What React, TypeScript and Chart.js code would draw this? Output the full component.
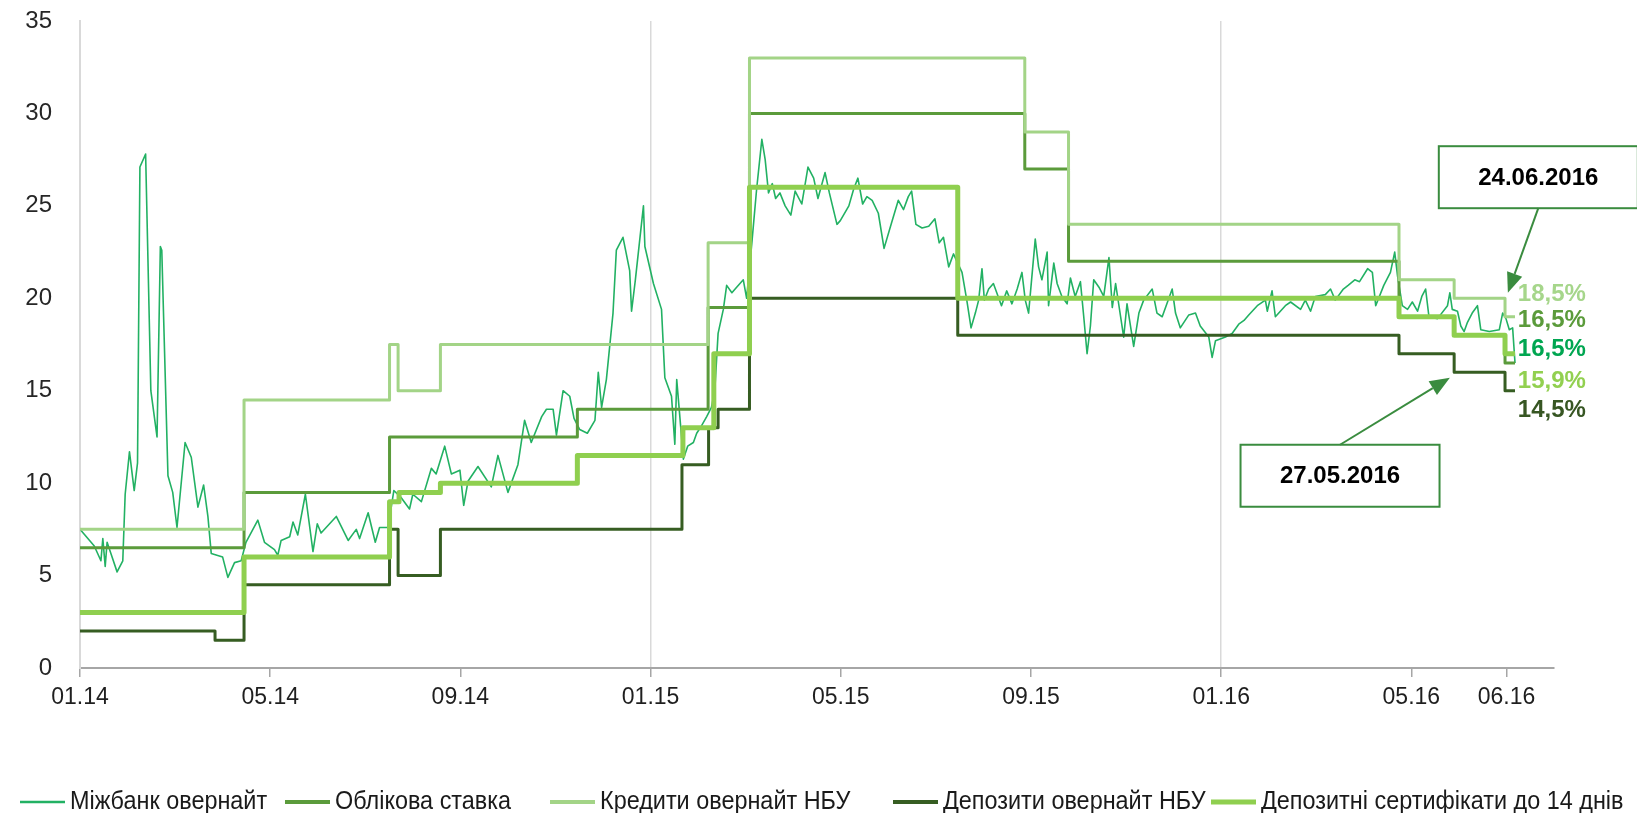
import React, { useEffect, useRef } from 'react';
import { Chart, registerables } from 'chart.js';

Chart.register(...registerables);

// ---------- axis ticks (x in months since 01.2014) ----------
const tickValues = [0, 4, 8, 12, 16, 20, 24, 28, 30];
const tickLabels = ['01.14', '05.14', '09.14', '01.15', '05.15', '09.15', '01.16', '05.16', '06.16'];
const yearGridValues = [12, 24];

// ---------- series names ----------
const seriesNames = [
  'Міжбанк овернайт',
  'Облікова ставка',
  'Кредити овернайт НБУ',
  'Депозити овернайт НБУ',
  'Депозитні сертифікати до 14 днів',
];

// ---------- Міжбанк овернайт ----------
const interbankMonths = [
  0.00, 0.30, 0.44, 0.48, 0.53, 0.57, 0.65, 0.78, 0.90, 0.95, 1.04, 1.14, 1.21, 1.26, 1.38, 1.49, 1.62, 1.69, 1.72, 1.85,
  1.95, 2.04, 2.21, 2.34, 2.48, 2.60, 2.69, 2.76, 3.00, 3.11, 3.25, 3.39, 3.49, 3.74, 3.88, 4.09, 4.16, 4.23, 4.41, 4.48,
  4.58, 4.74, 4.90, 4.99, 5.07, 5.39, 5.64, 5.81, 5.88, 6.06, 6.21, 6.30, 6.48, 6.60, 6.76, 6.93, 7.00, 7.18, 7.39, 7.49,
  7.67, 7.81, 7.99, 8.07, 8.16, 8.37, 8.65, 8.79, 9.00, 9.21, 9.35, 9.49, 9.71, 9.81, 9.95, 10.02, 10.16, 10.30, 10.39, 10.51,
  10.67, 10.83, 10.90, 10.97, 11.07, 11.21, 11.28, 11.42, 11.56, 11.60, 11.68, 11.85, 11.88, 12.06, 12.23, 12.30, 12.44, 12.51, 12.55, 12.69,
  12.78, 12.90, 12.97, 13.07, 13.18, 13.28, 13.35, 13.42, 13.53, 13.60, 13.71, 13.81, 13.88, 13.95, 14.02, 14.13, 14.23, 14.34, 14.41, 14.48,
  14.56, 14.63, 14.72, 14.83, 14.95, 15.04, 15.18, 15.31, 15.43, 15.52, 15.67, 15.76, 15.92, 15.99, 16.17, 16.27, 16.36, 16.46, 16.55, 16.66,
  16.79, 16.91, 17.07, 17.21, 17.32, 17.42, 17.49, 17.58, 17.71, 17.85, 17.98, 18.07, 18.16, 18.27, 18.37, 18.55, 18.65, 18.74, 18.83, 18.90,
  18.97, 19.02, 19.11, 19.21, 19.38, 19.49, 19.60, 19.71, 19.81, 19.88, 19.95, 20.09, 20.16, 20.23, 20.34, 20.37, 20.48, 20.55, 20.65, 20.76,
  20.83, 20.93, 21.04, 21.11, 21.18, 21.25, 21.32, 21.43, 21.53, 21.64, 21.71, 21.78, 21.95, 22.02, 22.16, 22.27, 22.37, 22.55, 22.65, 22.76,
  22.97, 23.04, 23.14, 23.32, 23.46, 23.56, 23.74, 23.81, 23.88, 24.09, 24.23, 24.37, 24.48, 24.58, 24.76, 24.93, 24.97, 25.07, 25.14, 25.35,
  25.46, 25.67, 25.77, 25.88, 25.98, 26.19, 26.30, 26.40, 26.57, 26.67, 26.81, 26.91, 27.08, 27.18, 27.25, 27.42, 27.56, 27.65, 27.71, 27.81,
  27.92, 28.02, 28.13, 28.22, 28.30, 28.37, 28.55, 28.76, 28.81, 28.86, 28.97, 29.04, 29.11, 29.18, 29.28, 29.39, 29.46, 29.64, 29.85, 29.92,
  29.99, 30.06, 30.13, 30.18,
];
const interbankRates = [
  7.5, 6.6, 5.8, 7.0, 5.5, 6.8, 6.2, 5.2, 5.8, 9.4, 11.7, 9.6, 11.1, 27.1, 27.8, 15.0, 12.5, 22.8, 22.6, 10.4,
  9.5, 7.6, 12.2, 11.4, 8.7, 9.9, 8.2, 6.2, 6.0, 4.9, 5.7, 5.8, 6.8, 8.0, 6.8, 6.4, 6.1, 6.9, 7.1, 7.9,
  7.2, 9.4, 6.3, 7.8, 7.3, 8.2, 6.9, 7.5, 7.0, 8.4, 6.8, 7.6, 7.6, 9.6, 9.2, 8.6, 9.4, 9.0, 10.8, 10.5,
  12.0, 10.5, 10.7, 8.8, 10.1, 10.9, 9.8, 11.5, 9.5, 11.0, 13.4, 12.2, 13.6, 14.0, 14.0, 12.6, 15.0, 14.7, 13.5, 12.9,
  12.7, 13.4, 16.0, 14.1, 15.6, 19.2, 22.6, 23.3, 21.5, 19.3, 21.0, 25.0, 22.8, 20.8, 19.4, 15.7, 14.7, 12.1, 15.6, 11.3,
  12.0, 12.2, 12.7, 13.1, 13.6, 14.1, 15.0, 18.1, 19.4, 20.7, 20.3, 20.6, 20.8, 21.0, 20.0, 23.0, 25.9, 28.6, 27.5, 25.7,
  26.2, 25.4, 25.7, 25.0, 24.5, 25.8, 25.1, 27.1, 26.5, 25.4, 26.8, 25.7, 24.0, 24.2, 25.0, 25.9, 26.5, 25.1, 25.5, 25.3,
  24.6, 22.7, 24.1, 25.3, 24.8, 25.5, 25.8, 24.0, 23.8, 23.9, 24.3, 23.0, 23.3, 21.7, 22.4, 21.4, 19.9, 18.4, 19.2, 19.9,
  21.6, 19.9, 20.5, 20.8, 19.6, 20.4, 19.7, 20.5, 21.4, 19.9, 19.2, 23.2, 21.7, 21.0, 22.5, 19.6, 21.9, 20.8, 20.1, 19.7,
  21.1, 20.1, 20.9, 19.0, 17.0, 18.5, 21.0, 20.6, 20.1, 22.2, 19.5, 20.8, 17.9, 19.7, 17.4, 19.2, 19.9, 20.5, 19.2, 19.0,
  20.5, 19.2, 18.4, 19.1, 19.2, 18.5, 17.9, 16.8, 17.7, 17.9, 18.1, 18.6, 18.8, 19.1, 19.6, 19.9, 19.3, 20.4, 19.0, 19.6,
  19.8, 19.4, 19.9, 19.3, 20.1, 20.2, 20.5, 19.9, 20.5, 20.7, 21.0, 20.9, 21.6, 21.4, 19.6, 20.7, 21.4, 22.5, 21.2, 19.6,
  19.4, 19.8, 19.3, 20.1, 20.5, 19.0, 18.9, 19.6, 20.3, 19.4, 19.3, 18.5, 18.2, 18.7, 19.2, 19.6, 18.3, 18.2, 18.3, 19.2,
  18.9, 18.3, 18.4, 16.5,
];

// ---------- Облікова ставка (step) ----------
const discountMonths = [0, 3.45, 6.51, 10.46, 13.21, 14.08, 19.87, 20.79, 27.74, 28.9, 29.97, 30.18];
const discountRates = [6.5, 9.5, 12.5, 14, 19.5, 30, 27, 22, 19, 18, 16.5, 16.5];

// ---------- Кредити овернайт НБУ (step) ----------
const loanMonths = [0, 3.45, 6.51, 6.69, 7.58, 13.21, 14.08, 19.87, 20.79, 27.74, 28.9, 29.97, 30.18];
const loanRates = [7.5, 14.5, 17.5, 15, 17.5, 23, 33, 29, 24, 21, 20, 19, 19];

// ---------- Депозити овернайт НБУ (step) ----------
const depositMonths = [0, 2.84, 3.45, 6.51, 6.69, 7.58, 12.66, 13.22, 13.42, 14.08, 18.46, 27.74, 28.9, 29.97, 30.18];
const depositRates = [2, 1.5, 4.5, 7.5, 5, 7.5, 11, 13, 14, 20, 18, 17, 16, 15, 15];

// ---------- Депозитні сертифікати до 14 днів (step) ----------
const certMonths = [0, 3.45, 6.51, 6.71, 7.58, 10.46, 12.68, 13.33, 14.08, 18.46, 27.74, 28.9, 29.97, 30.18];
const certRates = [3, 6, 9, 9.5, 10, 11.5, 13, 17, 26, 20, 19, 18, 17, 17];

// ---------- end-of-period labels ----------
const endLabels = ['18,5%', '16,5%', '16,5%', '15,9%', '14,5%'];

// ---------- callouts ----------
const calloutTexts = ['24.06.2016', '27.05.2016'];

// ---------- styles ----------
const COLORS = ['#22b163', '#5b9b3b', '#a3d487', '#365d22', '#8fcf4f'];
const WIDTHS = [1.6, 3, 3, 3, 5];
const ORDERS = [5, 4, 3, 2, 1];
const LEGEND_WIDTHS = [2.5, 4, 4, 4, 5];
const END_LABEL_COLORS = ['#a6d68b', '#5b9b3b', '#00a651', '#92d050', '#375623'];
const REGULAR = "'Liberation Sans', Arial, sans-serif";
const CALLOUT_GREEN = '#3a8c3f';

const toPoints = (xs: number[], ys: number[]) => xs.map((x, i) => ({ x, y: ys[i] }));

// layout constants (overlay positions)
const END_LABEL_X = 30.24;
const END_LABEL_Y = [20.2, 18.8, 17.25, 15.5, 13.95];
const CALLOUTS = [
  { boxX: 30.67, boxY: 26.55, w: 199, h: 62, tipX: 30.03, tipY: 20.3, fromDx: 0, fromTop: false },
  { boxX: 26.5, boxY: 10.4, w: 199, h: 62, tipX: 28.81, tipY: 15.7, fromDx: 0, fromTop: true },
];
const LEGEND_X = [20, 285, 550, 893, 1211];
const LEGEND_TEXT_TARGET = 886; // combined width of first four legend texts
const LEGEND_Y = 802;

const overlayPlugin = {
  id: 'overlay',
  afterDraw(chart: any) {
    const ctx: CanvasRenderingContext2D = chart.ctx;
    const xs = chart.scales.x;
    const ys = chart.scales.y;
    ctx.save();

    // end labels
    ctx.font = `bold 24px ${REGULAR}`;
    ctx.textAlign = 'left';
    ctx.textBaseline = 'middle';
    endLabels.forEach((t, i) => {
      ctx.fillStyle = END_LABEL_COLORS[i];
      ctx.fillText(t, xs.getPixelForValue(END_LABEL_X), ys.getPixelForValue(END_LABEL_Y[i]));
    });

    // callouts
    CALLOUTS.forEach((c, i) => {
      const cx = xs.getPixelForValue(c.boxX);
      const cy = ys.getPixelForValue(c.boxY);
      const l = cx - c.w / 2;
      const t = cy - c.h / 2;
      ctx.fillStyle = '#ffffff';
      ctx.fillRect(l, t, c.w, c.h);
      ctx.strokeStyle = CALLOUT_GREEN;
      ctx.lineWidth = 2;
      ctx.strokeRect(l, t, c.w, c.h);
      ctx.fillStyle = '#000000';
      ctx.font = `bold 24px ${REGULAR}`;
      ctx.textAlign = 'center';
      ctx.textBaseline = 'middle';
      ctx.fillText(calloutTexts[i], cx, cy + 1);

      const sx = cx + c.fromDx;
      const sy = c.fromTop ? t : t + c.h;
      const tx = xs.getPixelForValue(c.tipX);
      const ty = ys.getPixelForValue(c.tipY);
      const ang = Math.atan2(ty - sy, tx - sx);
      const headLen = 20;
      const headW = 8;
      const bx = tx - headLen * Math.cos(ang);
      const by = ty - headLen * Math.sin(ang);
      ctx.strokeStyle = CALLOUT_GREEN;
      ctx.lineWidth = 2;
      ctx.beginPath();
      ctx.moveTo(sx, sy);
      ctx.lineTo(bx, by);
      ctx.stroke();
      ctx.fillStyle = CALLOUT_GREEN;
      ctx.beginPath();
      ctx.moveTo(tx, ty);
      ctx.lineTo(bx + headW * Math.sin(ang), by - headW * Math.cos(ang));
      ctx.lineTo(bx - headW * Math.sin(ang), by + headW * Math.cos(ang));
      ctx.closePath();
      ctx.fill();
    });

    // legend (narrow look: horizontally condensed Liberation Sans)
    ctx.font = `25px ${REGULAR}`;
    ctx.textAlign = 'left';
    ctx.textBaseline = 'middle';
    const dsets = chart.data.datasets;
    let measured = 0;
    for (let i = 0; i < 4; i++) measured += ctx.measureText(dsets[i].label).width;
    const sx = LEGEND_TEXT_TARGET / measured;
    dsets.forEach((ds: any, i: number) => {
      const x0 = LEGEND_X[i];
      ctx.strokeStyle = ds.borderColor;
      ctx.lineWidth = LEGEND_WIDTHS[i];
      ctx.beginPath();
      ctx.moveTo(x0, LEGEND_Y);
      ctx.lineTo(x0 + 45, LEGEND_Y);
      ctx.stroke();
      ctx.save();
      ctx.translate(x0 + 50, LEGEND_Y);
      ctx.scale(sx, 1);
      ctx.fillStyle = '#1a1a1a';
      ctx.fillText(ds.label, 0, 0);
      ctx.restore();
    });

    ctx.restore();
  },
};

export default function App() {
  const ref = useRef<HTMLCanvasElement>(null);

  useEffect(() => {
    if (!ref.current) return;
    const seriesData = [
      toPoints(interbankMonths, interbankRates),
      toPoints(discountMonths, discountRates),
      toPoints(loanMonths, loanRates),
      toPoints(depositMonths, depositRates),
      toPoints(certMonths, certRates),
    ];
    const chart = new Chart(ref.current, {
      type: 'line',
      data: {
        datasets: seriesNames.map((name, i) => ({
          label: name,
          data: seriesData[i],
          borderColor: COLORS[i],
          backgroundColor: COLORS[i],
          borderWidth: WIDTHS[i],
          pointRadius: 0,
          tension: 0,
          stepped: i === 0 ? false : true,
          order: ORDERS[i],
          borderJoinStyle: 'round',
        })),
      },
      options: {
        responsive: false,
        animation: false,
        layout: { padding: { left: 0, right: 83, top: 21, bottom: 0 } },
        plugins: { legend: { display: false }, tooltip: { enabled: false } },
        scales: {
          x: {
            type: 'linear',
            min: 0,
            max: 31,
            afterBuildTicks: (scale: any) => {
              scale.ticks = tickValues.map((v) => ({ value: v }));
            },
            afterFit: (scale: any) => {
              scale.height = 145;
              scale.paddingLeft = 0;
              scale.paddingRight = 0;
            },
            ticks: {
              autoSkip: false,
              maxRotation: 0,
              padding: 7,
              color: '#1f1f1f',
              font: { family: REGULAR, size: 23 },
              callback: (_v: any, idx: number) => tickLabels[idx],
            },
            grid: {
              color: (c: any) => (c.tick && yearGridValues.includes(c.tick.value) ? '#d9d9d9' : 'rgba(0,0,0,0)'),
              lineWidth: 1.5,
              tickColor: '#a6a6a6',
              tickLength: 9,
              drawTicks: true,
            },
            border: { display: true, color: '#a6a6a6', width: 2 },
          },
          y: {
            min: 0,
            max: 35,
            afterFit: (scale: any) => {
              scale.width = 80;
              scale.paddingTop = 0;
              scale.paddingBottom = 0;
            },
            ticks: {
              stepSize: 5,
              padding: 28,
              color: '#262626',
              font: { family: REGULAR, size: 24 },
            },
            grid: { display: false, drawTicks: false },
            border: { display: true, color: '#d9d9d9', width: 2 },
          },
        },
      },
      plugins: [overlayPlugin],
    } as any);
    return () => chart.destroy();
  }, []);

  return (
    <canvas
      ref={ref}
      width={1637}
      height={813}
      style={{ position: 'fixed', left: 0, top: 0, width: 1637, height: 813 }}
    />
  );
}
